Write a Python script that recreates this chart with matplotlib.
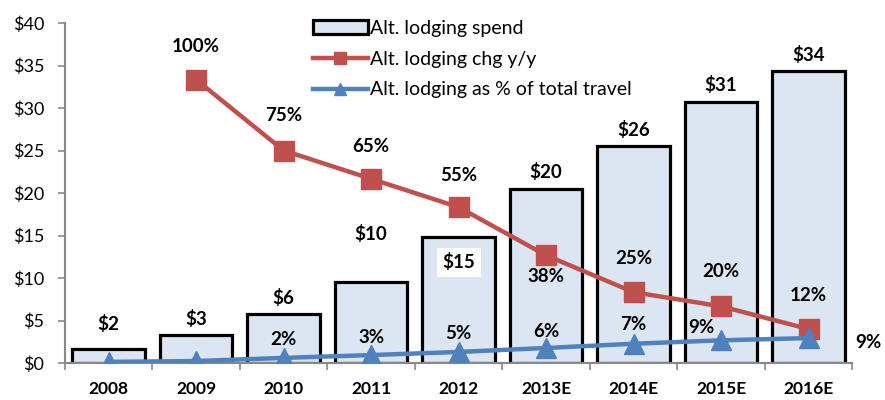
import numpy as np
import matplotlib.pyplot as plt
from matplotlib.lines import Line2D
from matplotlib.patches import Patch

plt.rcParams['font.family'] = ['Lato', 'DejaVu Sans']

years = ["2008", "2009", "2010", "2011", "2012", "2013E", "2014E", "2015E", "2016E"]
spend = [1.6, 3.3, 5.8, 9.5, 14.8, 20.5, 25.5, 30.7, 34.4]
spend_labels = ["$2", "$3", "$6", "$10", "$15", "$20", "$26", "$31", "$34"]
chg = [np.nan, 100, 75, 65, 55, 38, 25, 20, 12]
share = [0.4, 0.7, 1.8, 2.8, 3.9, 5.3, 6.8, 8.0, 8.8]
share_labels = ["", "", "2%", "3%", "5%", "6%", "7%", "9%", "9%"]

red = "#C0504D"
blue = "#4F81BD"
fill = "#DCE6F2"

fig = plt.figure(figsize=(8.85, 4.0), dpi=100)
ax = fig.add_axes([0.0734, 0.0925, 0.8896, 0.85])
x = np.arange(len(years))

ax.bar(x, spend, width=0.83, color=fill, edgecolor="black", linewidth=2.3, zorder=2)
ax.set_xlim(-0.5, len(years) - 0.5)
ax.set_ylim(0, 40)
ax.set_yticks(range(0, 45, 5))
ax.set_yticklabels(["$%d" % v for v in range(0, 45, 5)], fontsize=13)
ax.set_xticks(x)
ax.set_xticklabels(years, fontsize=12.5, fontweight="bold")
ax.set_xticks(np.arange(-0.5, len(years)), minor=True)
ax.tick_params(axis="x", which="major", length=0, pad=13)
ax.tick_params(axis="x", which="minor", length=5, color="#888888", width=1.2)
ax.tick_params(axis="y", length=5, color="#888888", width=1.2, pad=10)
for s in ["top", "right"]:
    ax.spines[s].set_visible(False)
for s in ["left", "bottom"]:
    ax.spines[s].set_color("#888888")
    ax.spines[s].set_linewidth(1.5)

# secondary (hidden) axis for percentage lines
ax2 = ax.twinx()
ax2.set_ylim(0, 120)
ax2.axis("off")
ax2.plot(x, chg, color=red, lw=3.2, marker="s", markersize=14.5, zorder=3)
ax2.plot(x, share, color=blue, lw=3.2, marker="^", markersize=15, zorder=4)

# bar labels
spend_off = [18, 11.5, 11.5, 35, -18, 12, 12, 12, 11]
for i, (v, lab) in enumerate(zip(spend, spend_labels)):
    bbox = None
    if lab == "$15":
        bbox = dict(facecolor="white", edgecolor="none", pad=4)
    ax.annotate(lab, (i, v), xytext=(0, spend_off[i]), textcoords="offset points",
                ha="center", va="center", fontsize=13.5, fontweight="bold",
                bbox=bbox, zorder=5)

# change labels
chg_off = [None, (0, 24), (0, 25), (0, 23), (0, 23), (0, -15), (0, 24), (0, 25), (0, 24)]
for i, v in enumerate(chg):
    if np.isnan(v):
        continue
    ax2.annotate("%d%%" % v, (i, v), xytext=chg_off[i], textcoords="offset points",
                 ha="center", va="center", fontsize=13.5, fontweight="bold")

# share labels
share_off = [None, None, (0, 13), (0, 13), (0, 13), (0, 12), (0, 14), (-14, 9), (43, -3)]
for i, (v, lab) in enumerate(zip(share, share_labels)):
    if not lab:
        continue
    ax2.annotate(lab, (i, v), xytext=share_off[i], textcoords="offset points",
                 ha="center", va="center", fontsize=13.5, fontweight="bold",
                 annotation_clip=False)

handles = [
    Patch(facecolor=fill, edgecolor="black", linewidth=2.3),
    Line2D([], [], color=red, lw=3.2, marker="s", markersize=9),
    Line2D([], [], color=blue, lw=3.2, marker="^", markersize=9),
]
labels = ["Alt. lodging spend", "Alt. lodging chg y/y", "Alt. lodging as % of total travel"]
ax.legend(handles, labels, loc="upper left", bbox_to_anchor=(0.293, 1.06), frameon=False,
          fontsize=14, handlelength=2.8, handletextpad=0.15, labelspacing=0.7)

fig.savefig("out.png", dpi=100)
